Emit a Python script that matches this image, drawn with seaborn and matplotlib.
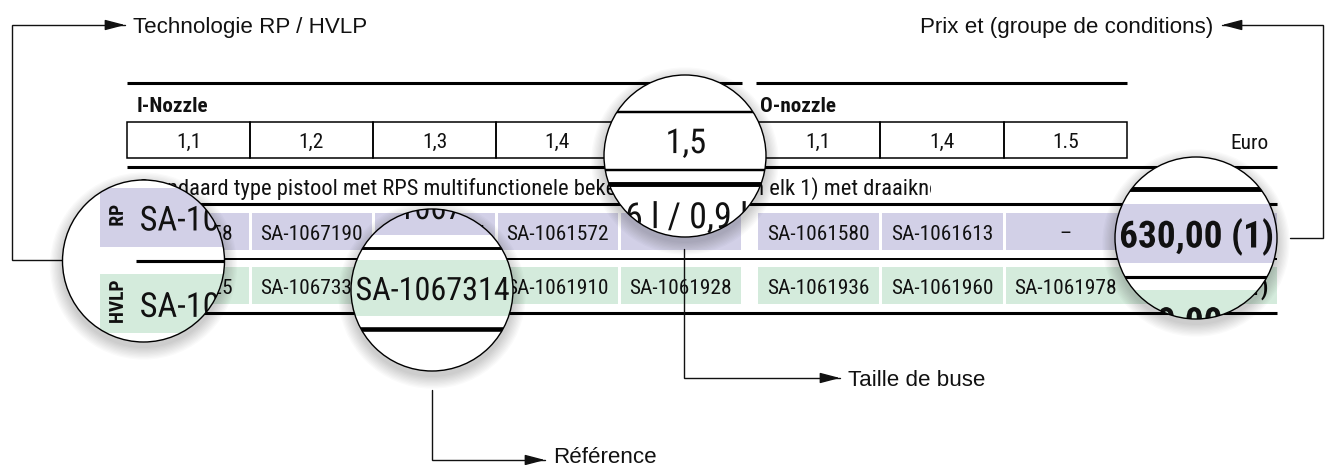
import matplotlib
matplotlib.use("Agg")
import matplotlib.pyplot as plt
import matplotlib.patheffects as pe
from matplotlib.patches import Rectangle, Circle, FancyArrowPatch
from matplotlib.font_manager import FontProperties, fontManager
import seaborn as sns

# ==============================
# DATA
# ==============================
GROUP_TITLES = ["I-Nozzle", "O-nozzle"]
I_NOZZLE = ["1,1", "1,2", "1,3", "1,4", "1,5"]
O_NOZZLE = ["1,1", "1,4", "1.5"]
CURRENCY = "Euro"
DESCRIPTION = ("Standaard type pistool met RPS multifunctionele beker "
               "0,6 l / 0,9 l (van elk 1) met draaiknop")
ROW_LABELS = ["RP", "HVLP"]
RP_CODES = ["SA-1067158", "SA-1067190", "SA-1067174", "SA-1061572", "–",
            "SA-1061580", "SA-1061613", "–"]
HVLP_CODES = ["SA-1067325", "SA-1067332", "SA-1067314", "SA-1061910", "SA-1061928",
              "SA-1061936", "SA-1061960", "SA-1061978"]
PRICES = ["630,00 (1)", "690,00 (1)"]
CALLOUTS = ["Technologie RP / HVLP", "Prix et (groupe de conditions)",
            "Taille de buse", "Référence"]

# ==============================
# LAYOUT (pixel grid of the picture)
# ==============================
W, H = 1325, 465
I_EDGES = [127, 250, 373, 496, 619, 742]
O_EDGES = [756, 880, 1004, 1127]
PRICE_EDGES = [1127, 1277]
ROW_Y = [(213, 250), (267, 304)]
DESC_CLIP = 931
LAVENDER = "#d2d0e7"
MINT = "#d4ebdc"
INK = "#111111"

# lens: centre x, centre y, radius, magnification, focus x, focus y
LENSES = [
    (143.5, 261, 81, 1.6, 132, 258.75),
    (432, 290, 81, 1.5, 434, 287),
    (685, 156, 81, 1.6, 680, 149.5),
    (1196, 238, 81, 1.6, 1219, 234.4),
]

sns.set_theme(style="white")
names = {f.name for f in fontManager.ttflist}
COND = next((n for n in ["Liberation Sans Narrow", "Roboto Condensed",
                         "DejaVu Sans Condensed", "Liberation Sans"] if n in names),
            "DejaVu Sans")
REG = "Liberation Sans" if "Liberation Sans" in names else "DejaVu Sans"
plt.rcParams["font.family"] = [REG, "DejaVu Sans"]

fig = plt.figure(figsize=(W / 100, H / 100), dpi=100, facecolor="white")
ax = fig.add_axes([0, 0, 1, 1])
ax.set_xlim(0, W)
ax.set_ylim(H, 0)
ax.axis("off")
renderer = fig.canvas.get_renderer()


def text_width(s, size, weight="normal", family=COND):
    w, _, _ = renderer.get_text_width_height_descent(
        s, FontProperties(family=family, weight=weight, size=size), ismath=False)
    return w


def fit(s, target, weight="normal", family=COND):
    return 10 * target / text_width(s, 10, weight, family)


CODE_FS = fit("SA-1067190", 102)
DESC_FS = fit("Standaard type pistool met RPS multifunctionele beke", 474)
HEAD_FS = fit("I-Nozzle", 71, "bold")
PRICE_FS = fit("630,00 (1)", 97, "bold")
LABEL_FS = fit("HVLP", 27, "bold")
ANN_FS = fit("Référence", 104, family=REG)

col_cells = [(a, b) for a, b in zip(I_EDGES[:-1], I_EDGES[1:])]
col_cells += [(a, b) for a, b in zip(O_EDGES[:-1], O_EDGES[1:])]
price_cell = (PRICE_EDGES[0], PRICE_EDGES[1])


def hits_circle(x0, y0, x1, y1, circ):
    cx, cy, r = circ
    nx = min(max(cx, x0), x1)
    ny = min(max(cy, y0), y1)
    return (nx - cx) ** 2 + (ny - cy) ** 2 < r ** 2


# ==============================
# TABLE (drawn once plain, once per lens magnified)
# ==============================
def draw_table(tf, s=1.0, clip=None, circ=None, z=2):

    def finish(a):
        if clip is not None:
            a.set_clip_path(clip)
        return a

    def line(x0, x1, y, lw):
        (a, b), (c, d) = tf(x0, y), tf(x1, y)
        ln, = ax.plot([a, c], [b, d], color="black", lw=lw * s,
                      solid_capstyle="butt", zorder=z)
        finish(ln)

    def rect(x0, y0, x1, y1, **kw):
        (a, b), (c, d) = tf(x0, y0), tf(x1, y1)
        p = Rectangle((a, b), c - a, d - b, zorder=z, **kw)
        ax.add_patch(p)
        finish(p)

    def text(x, yc, s_, fs, ha="center", weight="normal", rot=0):
        a, b = tf(x, yc)
        f = fs * s
        if circ is not None:
            w = text_width(s_, f, weight)
            h = f * 100 / 72
            if rot:
                w, h = h, w
            x0 = {"center": a - w / 2, "left": a, "right": a - w}[ha]
            if not hits_circle(x0, b - h / 2, x0 + w, b + h / 2, circ):
                return None
        if rot:
            t = ax.text(a, b, s_, ha=ha, va="center", rotation=rot, fontsize=f,
                        fontweight=weight, family=COND, color=INK, zorder=z + 0.5)
        else:
            t = ax.text(a, b + 0.358 * f * 100 / 72, s_, ha=ha, va="baseline",
                        fontsize=f, fontweight=weight, family=COND, color=INK,
                        zorder=z + 0.5)
        if clip is not None:
            t.set_clip_on(True)
            t.set_path_effects([pe.Normal()])
            t.set_clip_path(clip)
        return t

    # group rules and titles
    line(I_EDGES[0], I_EDGES[-1], 83, 2.2)
    line(O_EDGES[0], O_EDGES[-1], 83, 2.2)
    text(137, 104, GROUP_TITLES[0], HEAD_FS, ha="left", weight="bold")
    text(760, 104, GROUP_TITLES[1], HEAD_FS, ha="left", weight="bold")

    # nozzle size boxes
    for edges, labels in [(I_EDGES, I_NOZZLE), (O_EDGES, O_NOZZLE)]:
        for a, b, lab in zip(edges[:-1], edges[1:], labels):
            rect(a, 122, b, 158, fill=False, edgecolor="black", lw=1.1 * s)
            text((a + b) / 2, 140, lab, CODE_FS)
    text(1269, 141, CURRENCY, CODE_FS, ha="right")

    line(I_EDGES[0], PRICE_EDGES[1], 167, 2.2)
    t = text(138, 186.5, DESCRIPTION, DESC_FS, ha="left")
    if clip is None:
        t.set_clip_on(True)
        t.set_clip_path(Rectangle((0, 0), DESC_CLIP, H, transform=ax.transData))
    line(I_EDGES[0], PRICE_EDGES[1], 204, 2.2)

    # RP / HVLP rows
    for (y0, y1), label, codes, price, color in zip(
            ROW_Y, ROW_LABELS, [RP_CODES, HVLP_CODES], PRICES, [LAVENDER, MINT]):
        yc = (y0 + y1) / 2 + 0.5
        for i, ((a, b), code) in enumerate(zip(col_cells, codes)):
            left = 105 if i == 0 else a + 1.5
            rect(left, y0, b - 1.5, y1, facecolor=color, edgecolor="none")
            cx = 181 if i == 0 else (a + b) / 2
            text(cx, yc, code, CODE_FS)
        rect(price_cell[0] - 1, y0, price_cell[1], y1, facecolor=color, edgecolor="none")
        text(1268, yc, price, PRICE_FS, ha="right", weight="bold")
        text(116, yc - 1.5, label, LABEL_FS, weight="bold", rot=90)
    line(I_EDGES[0], PRICE_EDGES[1], 259, 1.4)
    line(I_EDGES[0], PRICE_EDGES[1], 313, 2.2)


draw_table(lambda x, y: (x, y))


# ==============================
# CALLOUT ARROWS
# ==============================
def callout(points, tip, label, ha, base=8):
    xs = [p[0] for p in points] + [tip[0]]
    ys = [p[1] for p in points] + [tip[1]]
    ax.plot(xs, ys, color=INK, lw=1.0, zorder=3, solid_joinstyle="miter")
    ax.add_patch(FancyArrowPatch(points[-1], tip,
                                 arrowstyle="-|>,head_length=1.22,head_width=0.32",
                                 mutation_scale=10, color=INK, lw=1.0,
                                 shrinkA=0, shrinkB=0, zorder=3))
    dx = 8 if ha == "left" else -9
    ax.text(tip[0] + dx, tip[1] + base, label, ha=ha, va="baseline",
            fontsize=ANN_FS, family=REG, color=INK, zorder=3)


callout([(62, 260), (12, 260), (12, 25), (110, 25)], (125, 25), CALLOUTS[0], "left")
callout([(1290, 238), (1323, 238), (1323, 25), (1237, 25)], (1222, 25), CALLOUTS[1], "right")
callout([(684, 249), (684, 378), (825, 378)], (840, 378), CALLOUTS[2], "left")
callout([(432, 390), (432, 460), (530, 460)], (545, 460), CALLOUTS[3], "left", base=2.5)

# ==============================
# MAGNIFYING LENSES
# ==============================
for cx, cy, r, m, fx, fy in LENSES:
    for k in range(10):
        ax.add_patch(Circle((cx, cy + 5), r + 1 + k * 1.3, facecolor="black",
                            edgecolor="none", alpha=0.018, zorder=5))
    disc = Circle((cx, cy), r, facecolor="white", edgecolor="none", zorder=6)
    ax.add_patch(disc)
    draw_table(lambda x, y, cx=cx, cy=cy, m=m, fx=fx, fy=fy:
               (cx + m * (x - fx), cy + m * (y - fy)),
               s=m, clip=disc, circ=(cx, cy, r), z=7)
    ax.add_patch(Circle((cx, cy), r, fill=False, edgecolor="black", lw=1.0, zorder=9))

fig.savefig("out.png", dpi=100, facecolor="white")
